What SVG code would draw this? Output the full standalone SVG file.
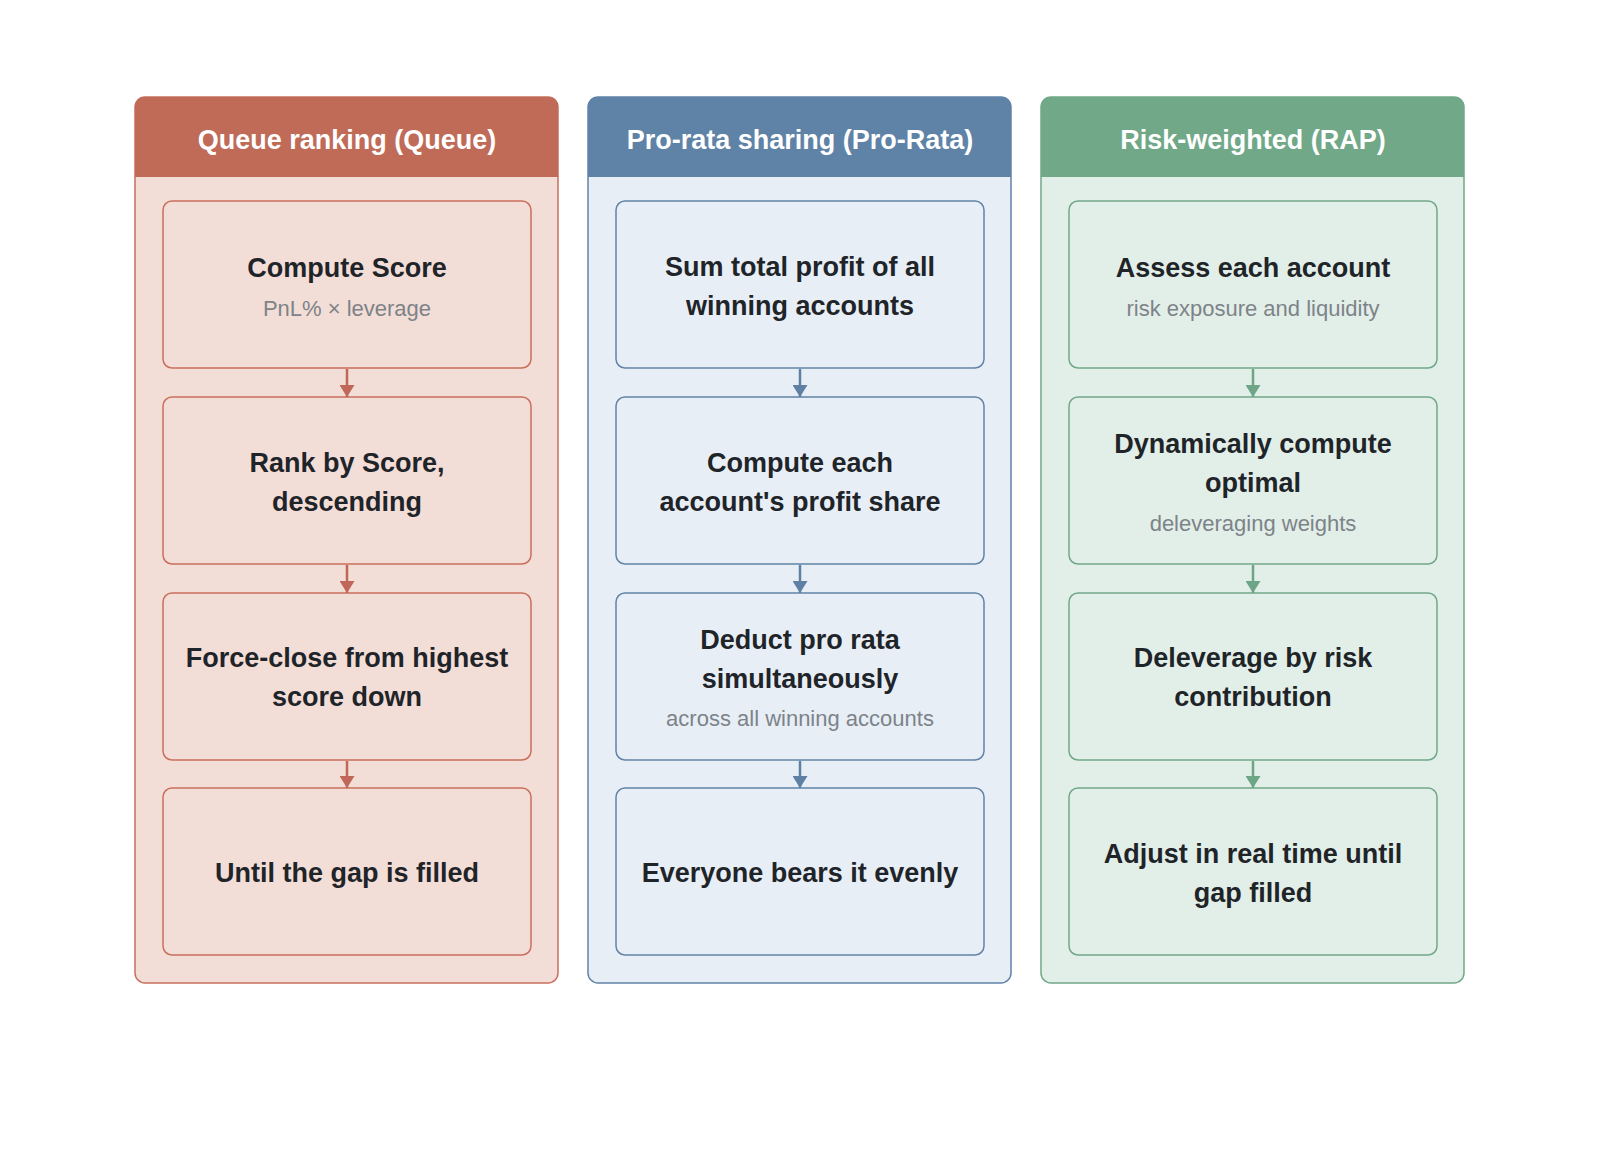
<svg xmlns="http://www.w3.org/2000/svg" width="1600" height="1156" viewBox="0 0 1600 1156">
<defs>
<style>
.t{font-family:"Liberation Sans",Arial,sans-serif;font-size:27px;font-weight:bold;fill:#1f2429;text-anchor:middle}
.s{font-family:"Liberation Sans",Arial,sans-serif;font-size:22px;fill:#7d8388;text-anchor:middle}
.h{font-family:"Liberation Sans",Arial,sans-serif;font-size:27px;font-weight:bold;fill:#ffffff;text-anchor:middle}
.r .box{fill:#f3ddd7;stroke:#c96f5c;stroke-width:1.5}
.b .box{fill:#e7eef6;stroke:#6184a8;stroke-width:1.5}
.g .box{fill:#e2efe8;stroke:#70a887;stroke-width:1.5}
.cr{stroke:#c0675a;stroke-width:2.5;fill:none}
.cb{stroke:#5d80a4;stroke-width:2.5;fill:none}
.cg{stroke:#6ea586;stroke-width:2.5;fill:none}
</style>
<marker id="ar" viewBox="0 0 12 15" refX="12" refY="7.5" markerWidth="12" markerHeight="15" markerUnits="userSpaceOnUse" orient="auto"><path d="M0,0 L12,7.5 L0,15 z" fill="#c0675a"/></marker>
<marker id="ab" viewBox="0 0 12 15" refX="12" refY="7.5" markerWidth="12" markerHeight="15" markerUnits="userSpaceOnUse" orient="auto"><path d="M0,0 L12,7.5 L0,15 z" fill="#5d80a4"/></marker>
<marker id="ag" viewBox="0 0 12 15" refX="12" refY="7.5" markerWidth="12" markerHeight="15" markerUnits="userSpaceOnUse" orient="auto"><path d="M0,0 L12,7.5 L0,15 z" fill="#6ea586"/></marker>
</defs>
<rect width="1600" height="1156" fill="#ffffff"/>

<g id="col-queue" class="r">
<rect class="box" x="135" y="97" width="423" height="886" rx="10"/>
<path d="M135,177 V107 Q135,97 145,97 H548 Q558,97 558,107 V177 Z" fill="#bf6b58"/>
<text class="h" x="347" y="149">Queue ranking (Queue)</text>
</g>
<g id="col-prorata" class="b">
<rect class="box" x="588" y="97" width="423" height="886" rx="10"/>
<path d="M588,177 V107 Q588,97 598,97 H1001 Q1011,97 1011,107 V177 Z" fill="#5f83a7"/>
<text class="h" x="800" y="149">Pro-rata sharing (Pro-Rata)</text>
</g>
<g id="col-rap" class="g">
<rect class="box" x="1041" y="97" width="423" height="886" rx="10"/>
<path d="M1041,177 V107 Q1041,97 1051,97 H1454 Q1464,97 1464,107 V177 Z" fill="#70a888"/>
<text class="h" x="1253" y="149">Risk-weighted (RAP)</text>
</g>

<g id="q1" class="r"><rect class="box" x="163" y="201" width="368" height="167" rx="9"/>
<text class="t" x="347" y="277">Compute Score</text><text class="s" x="347" y="316">PnL% × leverage</text></g>
<g id="q2" class="r"><rect class="box" x="163" y="397" width="368" height="167" rx="9"/>
<text class="t" x="347" y="472">Rank by Score,</text><text class="t" x="347" y="511">descending</text></g>
<g id="q3" class="r"><rect class="box" x="163" y="593" width="368" height="167" rx="9"/>
<text class="t" x="347" y="667">Force-close from highest</text><text class="t" x="347" y="706">score down</text></g>
<g id="q4" class="r"><rect class="box" x="163" y="788" width="368" height="167" rx="9"/>
<text class="t" x="347" y="882">Until the gap is filled</text></g>

<g id="p1" class="b"><rect class="box" x="616" y="201" width="368" height="167" rx="9"/>
<text class="t" x="800" y="276">Sum total profit of all</text><text class="t" x="800" y="315">winning accounts</text></g>
<g id="p2" class="b"><rect class="box" x="616" y="397" width="368" height="167" rx="9"/>
<text class="t" x="800" y="472">Compute each</text><text class="t" x="800" y="511">account's profit share</text></g>
<g id="p3" class="b"><rect class="box" x="616" y="593" width="368" height="167" rx="9"/>
<text class="t" x="800" y="649">Deduct pro rata</text><text class="t" x="800" y="688">simultaneously</text><text class="s" x="800" y="726">across all winning accounts</text></g>
<g id="p4" class="b"><rect class="box" x="616" y="788" width="368" height="167" rx="9"/>
<text class="t" x="800" y="882">Everyone bears it evenly</text></g>

<g id="r1" class="g"><rect class="box" x="1069" y="201" width="368" height="167" rx="9"/>
<text class="t" x="1253" y="277">Assess each account</text><text class="s" x="1253" y="316">risk exposure and liquidity</text></g>
<g id="r2" class="g"><rect class="box" x="1069" y="397" width="368" height="167" rx="9"/>
<text class="t" x="1253" y="453">Dynamically compute</text><text class="t" x="1253" y="492">optimal</text><text class="s" x="1253" y="531">deleveraging weights</text></g>
<g id="r3" class="g"><rect class="box" x="1069" y="593" width="368" height="167" rx="9"/>
<text class="t" x="1253" y="667">Deleverage by risk</text><text class="t" x="1253" y="706">contribution</text></g>
<g id="r4" class="g"><rect class="box" x="1069" y="788" width="368" height="167" rx="9"/>
<text class="t" x="1253" y="863">Adjust in real time until</text><text class="t" x="1253" y="902">gap filled</text></g>

<g id="connectors">
<line class="cr" x1="347" y1="369" x2="347" y2="397" marker-end="url(#ar)"/>
<line class="cr" x1="347" y1="565" x2="347" y2="593" marker-end="url(#ar)"/>
<line class="cr" x1="347" y1="761" x2="347" y2="788" marker-end="url(#ar)"/>
<line class="cb" x1="800" y1="369" x2="800" y2="397" marker-end="url(#ab)"/>
<line class="cb" x1="800" y1="565" x2="800" y2="593" marker-end="url(#ab)"/>
<line class="cb" x1="800" y1="761" x2="800" y2="788" marker-end="url(#ab)"/>
<line class="cg" x1="1253" y1="369" x2="1253" y2="397" marker-end="url(#ag)"/>
<line class="cg" x1="1253" y1="565" x2="1253" y2="593" marker-end="url(#ag)"/>
<line class="cg" x1="1253" y1="761" x2="1253" y2="788" marker-end="url(#ag)"/>
</g>
</svg>
